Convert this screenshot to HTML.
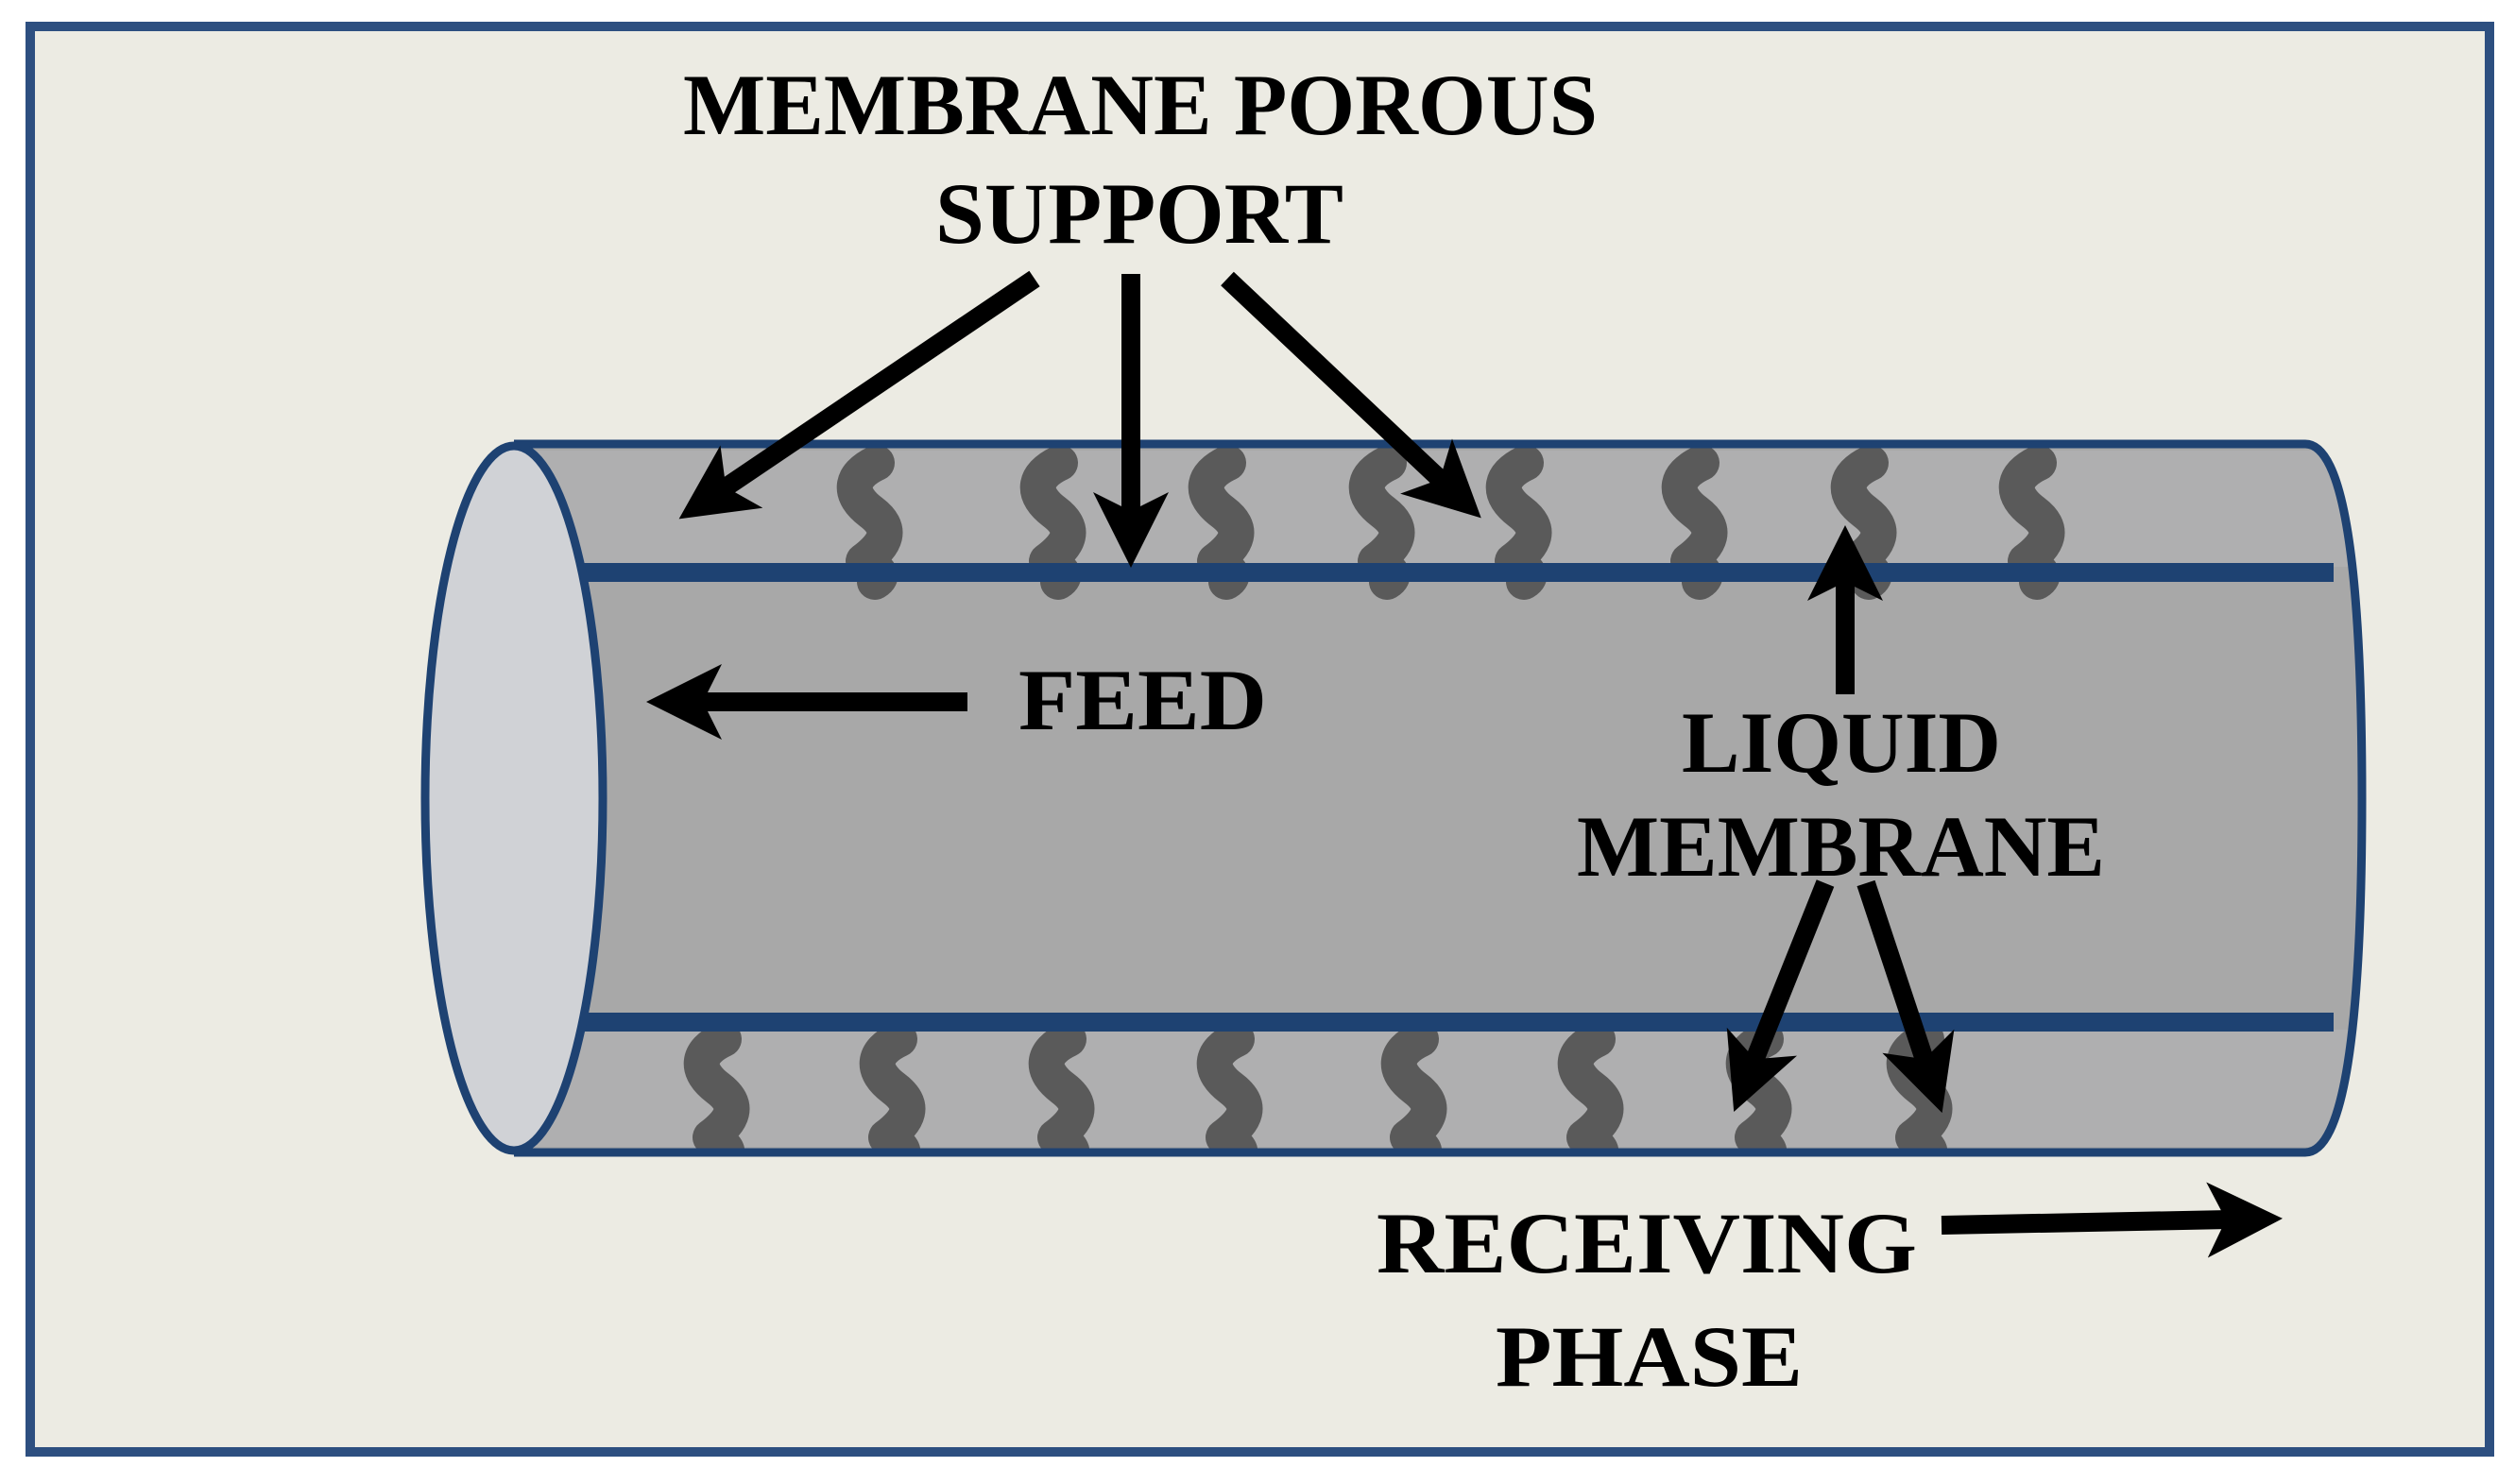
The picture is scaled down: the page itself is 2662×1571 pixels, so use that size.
<!DOCTYPE html>
<html><head><meta charset="utf-8"><style>html,body{margin:0;padding:0;background:#fff}svg{display:block}</style></head>
<body>
<svg width="2662" height="1571" viewBox="0 0 2662 1571" xmlns="http://www.w3.org/2000/svg">
<defs>
<marker id="ah" markerWidth="4" markerHeight="4" refX="1.2" refY="2" orient="auto" markerUnits="strokeWidth">
<path d="M0,0 L4,2 L0,4 L1,2 Z" fill="#000"/>
</marker>
<path id="sq" d="M8,0 c-30,14 -30,34 -6,52 c24,18 16,34 -8,52 c18,10 22,16 12,22" fill="none" stroke="#5a5a5a" stroke-width="38" stroke-linecap="round" stroke-linejoin="round"/>
<clipPath id="body"><path d="M544,470 L2440,470 Q2500,470 2500,845 Q2500,1220 2440,1220 L544,1220 Z"/></clipPath>
</defs>
<rect x="0" y="0" width="2662" height="1571" fill="#fff"/>
<rect x="32" y="28" width="2603" height="1509" fill="#ecebe3" stroke="#2d4f80" stroke-width="10"/>
<path d="M544,470 L2440,470 Q2500,470 2500,845 Q2500,1220 2440,1220 L544,1220 Z" fill="#a8a8a8"/>
<g clip-path="url(#body)">
<rect x="540" y="477" width="1990" height="123" fill="#afafb0"/>
<rect x="540" y="1090" width="1990" height="124" fill="#afafb0"/>
<g>
<use href="#sq" x="920" y="490"/><use href="#sq" x="1114" y="490"/><use href="#sq" x="1292" y="490"/><use href="#sq" x="1462" y="490"/>
<use href="#sq" x="1607" y="490"/><use href="#sq" x="1793" y="490"/><use href="#sq" x="1972" y="490"/><use href="#sq" x="2150" y="490"/>
<use href="#sq" x="758" y="1100"/><use href="#sq" x="944" y="1100"/><use href="#sq" x="1123" y="1100"/><use href="#sq" x="1301" y="1100"/>
<use href="#sq" x="1496" y="1100"/><use href="#sq" x="1683" y="1100"/><use href="#sq" x="1861" y="1100"/><use href="#sq" x="2031" y="1100"/>
</g>
<rect x="540" y="596" width="1930" height="20" fill="#1e4272"/>
<rect x="540" y="1072" width="1930" height="20" fill="#1e4272"/>
</g>
<path d="M544,470 L2440,470 Q2500,470 2500,845 Q2500,1220 2440,1220 L544,1220" fill="none" stroke="#1e4272" stroke-width="9"/>
<ellipse cx="544" cy="845" rx="94" ry="373" fill="#d0d2d6" stroke="#1e4272" stroke-width="9"/>
<g stroke="#000" stroke-width="20" fill="none" marker-end="url(#ah)">
<line x1="1095" y1="295" x2="765" y2="518"/>
<line x1="1197" y1="290" x2="1197" y2="545"/>
<line x1="1299" y1="295" x2="1527" y2="510"/>
<line x1="1024" y1="743" x2="740" y2="743"/>
<line x1="1953" y1="735" x2="1953" y2="612"/>
<line x1="1932" y1="935" x2="1856" y2="1125"/>
<line x1="1975" y1="935" x2="2038" y2="1125"/>
<line x1="2055" y1="1297" x2="2360" y2="1291"/>
</g>
<g font-family="Liberation Serif, serif" font-weight="bold" fill="#000" font-size="92">
<text x="723" y="142" textLength="968" lengthAdjust="spacingAndGlyphs">MEMBRANE POROUS</text>
<text x="990" y="257" textLength="432" lengthAdjust="spacingAndGlyphs">SUPPORT</text>
<text x="1078" y="772" textLength="263" lengthAdjust="spacingAndGlyphs">FEED</text>
<text x="1780" y="817" textLength="338" lengthAdjust="spacingAndGlyphs">LIQUID</text>
<text x="1669" y="927" textLength="559" lengthAdjust="spacingAndGlyphs">MEMBRANE</text>
<text x="1457" y="1347" textLength="572" lengthAdjust="spacingAndGlyphs">RECEIVING</text>
<text x="1583" y="1467" textLength="325" lengthAdjust="spacingAndGlyphs">PHASE</text>
</g>
</svg>
</body></html>
